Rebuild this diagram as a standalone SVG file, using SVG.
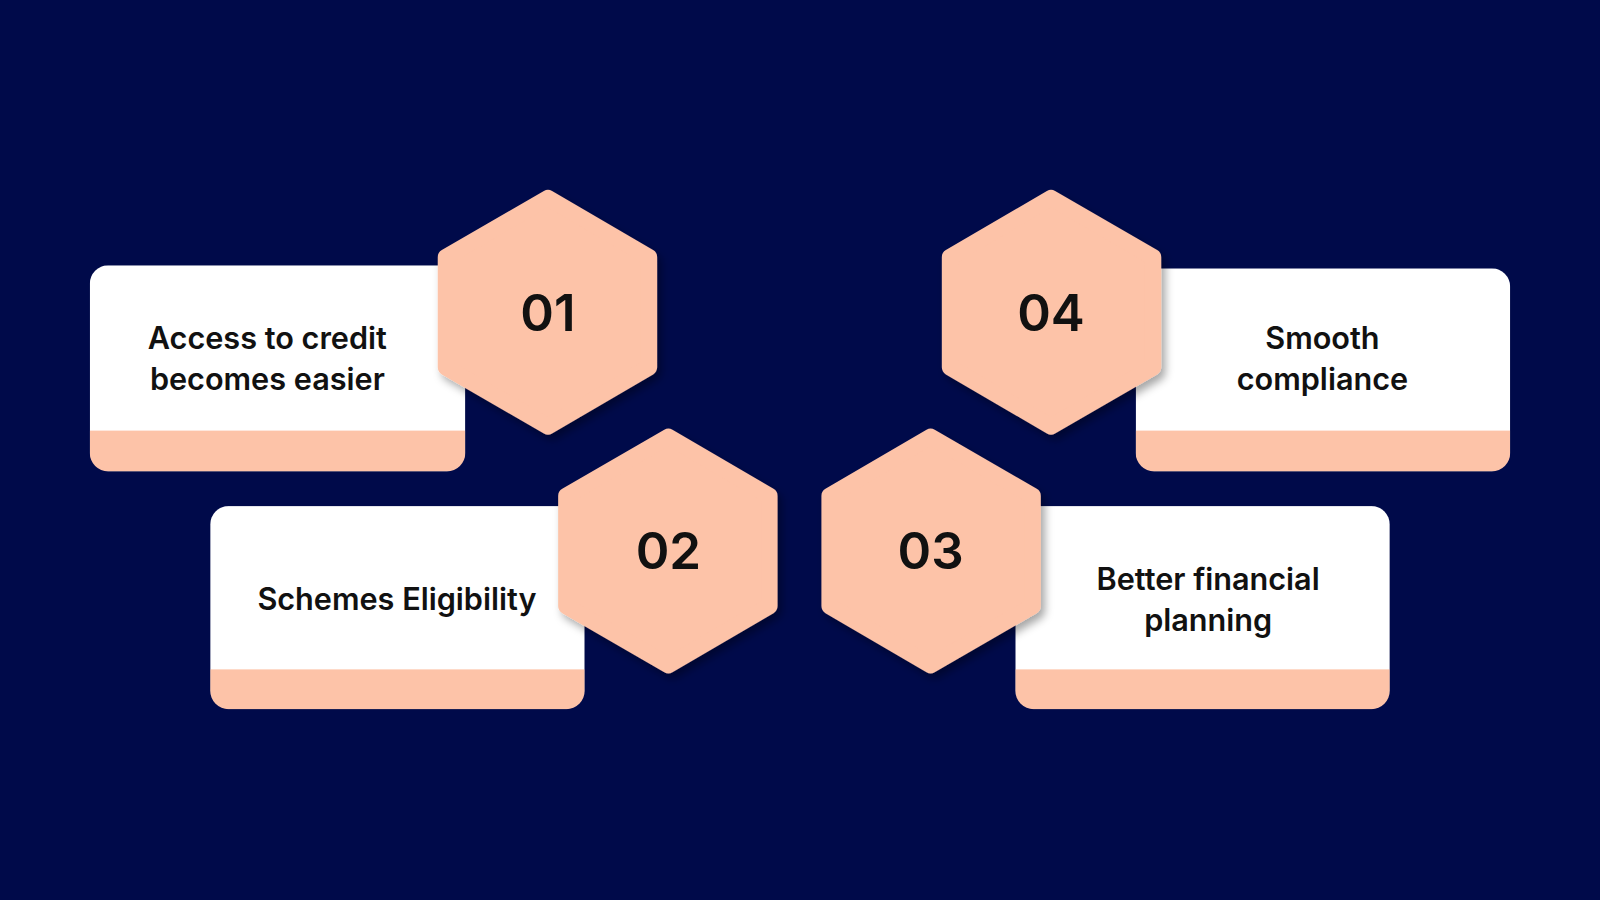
<svg xmlns="http://www.w3.org/2000/svg" width="1600" height="900" viewBox="0 0 1600 900">
<style>
.bg{fill:#000a4a}
.card{fill:#ffffff}
.band{fill:#fdc3a8}
.hex{fill:#fdc3a8;stroke:#fdc3a8;stroke-width:16;stroke-linejoin:round}
.t{font-family:Inter,"Noto Sans",sans-serif;font-weight:600;font-size:30px;fill:#111;text-anchor:middle}
.n{font-family:Inter,"Noto Sans",sans-serif;font-weight:600;font-size:50px;fill:#111;text-anchor:middle}
</style>
<defs>
<filter id="sh" x="-20%" y="-20%" width="140%" height="140%"><feDropShadow dx="4" dy="5" stdDeviation="4" flood-color="#000" flood-opacity="0.35"/></filter>
<clipPath id="c1"><rect x="88" y="260" width="368" height="202" rx="18"/></clipPath>
<clipPath id="c2"><rect x="206" y="496" width="367" height="199" rx="18"/></clipPath>
<clipPath id="c3"><rect x="995" y="496" width="367" height="199" rx="18"/></clipPath>
<clipPath id="c4"><rect x="1113" y="263" width="367" height="199" rx="18"/></clipPath>
</defs>
<rect class="bg" width="1600" height="900"/>
<g transform="scale(1.0204)">
<g id="node1">
<g filter="url(#sh)" clip-path="url(#c1)"><rect class="card" x="88" y="260" width="368" height="202"/><rect class="band" x="88" y="422" width="368" height="40"/></g>
<polygon class="hex" filter="url(#sh)" points="537,194 636,252 636,360 537,418 437,360 437,252"/>
<text class="t" x="262" y="342">Access to credit</text>
<text class="t" x="262" y="382">becomes easier</text>
<text class="n" x="537" y="324">01</text>
</g>
<g id="node2">
<g filter="url(#sh)" clip-path="url(#c2)"><rect class="card" x="206" y="496" width="367" height="199"/><rect class="band" x="206" y="656" width="367" height="39"/></g>
<polygon class="hex" filter="url(#sh)" points="655,428 754,486 754,594 655,652 555,594 555,486"/>
<text class="t" x="389" y="598">Schemes Eligibility</text>
<text class="n" x="655" y="558">02</text>
</g>
<g id="node3">
<g filter="url(#sh)" clip-path="url(#c3)"><rect class="card" x="995" y="496" width="367" height="199"/><rect class="band" x="995" y="656" width="367" height="39"/></g>
<polygon class="hex" filter="url(#sh)" points="912,428 1012,486 1012,594 912,652 813,594 813,486"/>
<text class="t" x="1184" y="578">Better financial</text>
<text class="t" x="1184" y="618">planning</text>
<text class="n" x="912" y="558">03</text>
</g>
<g id="node4">
<g filter="url(#sh)" clip-path="url(#c4)"><rect class="card" x="1113" y="263" width="367" height="199"/><rect class="band" x="1113" y="422" width="367" height="40"/></g>
<polygon class="hex" filter="url(#sh)" points="1030,194 1130,252 1130,360 1030,418 931,360 931,252"/>
<text class="t" x="1296" y="342">Smooth</text>
<text class="t" x="1296" y="382">compliance</text>
<text class="n" x="1030" y="324">04</text>
</g>
<g id="connectors"/>
</g>
</svg>
